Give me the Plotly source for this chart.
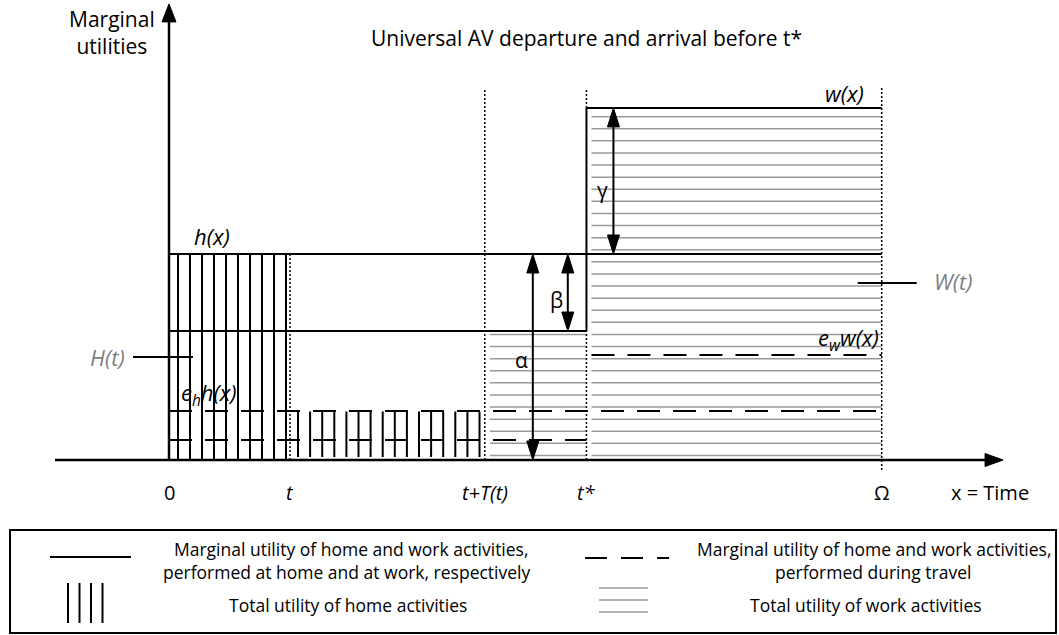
import numpy as np
import plotly.graph_objects as go

# ---------------- data (conceptual units) ----------------
tick_labels = ["0", "<i>t</i>", "<i>t+T(t)</i>", "<i>t*</i>", "Ω"]
tick_values = [0.0, 1.0, 2.61, 3.45, 5.89]      # 0, t, t+T(t), t*, Ω
level_w = 17.09      # w(x)
level_h = 10.0       # h(x)
level_mid = 6.26     # h(x) - β
level_ew = 5.10      # e_w w(x)
level_eh = 2.38      # e_h h(x)
level_low = 0.97     # lower travel dash
guide_top = 18.06    # top of dotted guides

T0, T1, T2, T3, T4 = tick_values

# ---------------- scale helpers ----------------
XS, YS = 121.0, 20.6          # px per unit
X0PX, Y0PX = 169.0, 460.0     # pixel of origin
W, H = 1059, 635
def dx(p): return p / XS
def dy(p): return p / YS

FONT = "Open Sans, Lato, sans-serif"
shapes = []
annotations = []

def line(x0, y0, x1, y1, color="black", width=2, dash=None, ref="x"):
    d = dict(type="line", x0=x0, y0=y0, x1=x1, y1=y1,
             xref=ref if ref == "paper" else "x", yref=ref if ref == "paper" else "y",
             line=dict(color=color, width=width, dash=dash), layer="above")
    shapes.append(d)

def head(xt, yt, direction, L=18, Wd=6):
    if direction == "up":
        pts = [(xt, yt), (xt - dx(Wd), yt - dy(L)), (xt + dx(Wd), yt - dy(L))]
    elif direction == "down":
        pts = [(xt, yt), (xt - dx(Wd), yt + dy(L)), (xt + dx(Wd), yt + dy(L))]
    else:  # right
        pts = [(xt, yt), (xt - dx(L), yt + dy(Wd)), (xt - dx(L), yt - dy(Wd))]
    path = "M " + " L ".join(f"{a},{b}" for a, b in pts) + " Z"
    shapes.append(dict(type="path", path=path, xref="x", yref="y",
                       fillcolor="black", line=dict(color="black", width=1), layer="above"))

def text(x, y, s, size=17, color="black", xanchor="center", ref="x"):
    annotations.append(dict(x=x, y=y, text=s, showarrow=False, xanchor=xanchor, yanchor="middle",
                            xref=ref if ref == "paper" else "x", yref=ref if ref == "paper" else "y",
                            font=dict(family=FONT, size=size, color=color)))

GRAY = "#9a9a9a"
DASH = "23px,13px"

# ---------------- hatch: total utility of work (grey horizontals) ----------------
gy = level_w - dy(8.7) - np.arange(0, 29) * dy(12.1)
for y in gy:
    if y < dy(4):
        continue
    line(T3 + dx(5), y, T4, y, color=GRAY, width=1.5)
    if y < level_mid - dy(3):
        line(T2 + dx(5), y, T3, y, color=GRAY, width=1.5)

# ---------------- hatch: total utility of home (verticals) ----------------
for x in np.arange(T0 + dx(9), T1, dx(12)):
    line(x, 0, x, level_h, width=2)
for x in np.arange(T1 + dx(8), T2 - dx(3), dx(12.1)):
    line(x, dy(3), x, level_eh - dy(0.5), width=2)

# ---------------- dotted guides ----------------
DOT = "2px,2px"
line(T1, 0, T1, level_h, width=1.5, dash=DOT)
line(T2, 0, T2, guide_top, width=1.5, dash=DOT)
line(T3, level_w, T3, guide_top, width=1.5, dash=DOT)
line(T3, 0, T3, level_mid, width=1.5, dash=DOT)
line(T4, -dy(10), T4, guide_top, width=1.5, dash=DOT)

# ---------------- marginal utility lines ----------------
line(T0, level_h, T4, level_h, width=2)
line(T0, level_mid, T3, level_mid, width=2)
line(T3, level_mid, T3, level_w, width=2)
line(T3, level_w, T4, level_w, width=2)

# dashed (travel) lines
line(T0, level_eh, T4, level_eh, width=2, dash=DASH)
line(T0, level_low, T3, level_low, width=2, dash=DASH)
line(T3 + dx(5), level_ew, T4, level_ew, width=2, dash=DASH)

# ---------------- axes ----------------
line(T0, 0, T0, 22.14 - dy(17), width=2.5)
head(T0, 22.14, "up", L=18, Wd=7)
line(-dx(114), 0, 6.893 - dx(17), 0, width=2.5)
head(6.893, 0, "right", L=18, Wd=6.5)

# ---------------- double arrows ----------------
def darrow(x, ya, yb):
    line(x, ya + dy(16), x, yb - dy(16), width=2)
    head(x, ya, "down", L=19, Wd=6)
    head(x, yb, "up", L=19, Wd=6)

darrow(T3 + dx(27), level_h, level_w)     # gamma
darrow(T2 + dx(83), level_mid, level_h)   # beta
darrow(T2 + dx(48), 0, level_h)           # alpha

# ---------------- pointer lines ----------------
line(T0 - dx(36), level_h - dy(103), T0 + dx(24), level_h - dy(103), width=2)
line(T4 - dx(24), level_h - dy(29), T4 + dx(35), level_h - dy(29), width=2)

# ---------------- labels ----------------
LB = 22
text(T0 + dx(43), level_h + dy(18), "<i>h(x)</i>", size=LB)
text(T4 - dx(37), level_w + dy(15), "<i>w(x)</i>", size=LB)
text(T4 - dx(33), level_ew + dy(16), "<i>e<sub>w</sub>w(x)</i>", size=LB)
text(T0 + dx(40), level_eh + dy(17), "<i>e<sub>h</sub>h(x)</i>", size=LB)
text(T0 - dx(62), level_h - dy(103), "<i>H(t)</i>", size=LB, color="#808080")
text(T4 + dx(72), level_h - dy(27), "<i>W(t)</i>", size=LB, color="#808080")
text(T3 + dx(16), level_h + dy(64), "γ", size=21)
text(T2 + dx(72), level_h - dy(46), "β", size=21)
text(T2 + dx(37), level_mid - dy(29), "α", size=21)

for v, s in zip(tick_values, tick_labels):
    text(v, -dy(32), s, size=20)
text(T4 + dx(108), -dy(32), "x = Time", size=20)

text(dx(586 - X0PX), dy(Y0PX - 38), "Universal AV departure and arrival before t*", size=21)
text(dx(112 - X0PX), dy(Y0PX - 32), "Marginal<br>utilities", size=21)

# ---------------- legend box (paper) ----------------
def px_x(p): return p / W
def px_y(p): return 1 - p / H
shapes.append(dict(type="rect", xref="paper", yref="paper",
                   x0=px_x(10), x1=px_x(1056), y0=px_y(633), y1=px_y(530),
                   line=dict(color="black", width=2), fillcolor="rgba(0,0,0,0)"))
line(px_x(50), px_y(557), px_x(131), px_y(557), width=2, ref="paper")
for p in [68, 79.5, 91, 102.5]:
    line(px_x(p), px_y(583), px_x(p), px_y(623), width=2, ref="paper")
line(px_x(585), px_y(558), px_x(669), px_y(558), width=2, dash="22px,14px", ref="paper")
for p in [588, 600, 612]:
    line(px_x(599), px_y(p), px_x(648), px_y(p), color=GRAY, width=1.5, ref="paper")

LS = 17.5
text(px_x(351), px_y(549), "Marginal utility of home and work activities,", size=LS, ref="paper")
text(px_x(346), px_y(572), "performed at home and at work, respectively", size=LS, ref="paper")
text(px_x(348), px_y(605), "Total utility of home activities", size=LS, ref="paper")
text(px_x(874), px_y(549), "Marginal utility of home and work activities,", size=LS, ref="paper")
text(px_x(873), px_y(572), "performed during travel", size=LS, ref="paper")
text(px_x(866), px_y(605), "Total utility of work activities", size=LS, ref="paper")

fig = go.Figure()
fig.add_trace(go.Scatter(x=tick_values, y=[0] * len(tick_values), mode="markers",
                         marker=dict(size=1, color="rgba(0,0,0,0)"), hoverinfo="skip", showlegend=False))
fig.update_layout(
    width=W, height=H, margin=dict(l=0, r=0, t=0, b=0),
    paper_bgcolor="white", plot_bgcolor="white", showlegend=False,
    xaxis=dict(range=[(0 - X0PX) / XS, (W - X0PX) / XS], visible=False, fixedrange=True),
    yaxis=dict(range=[(Y0PX - H) / YS, Y0PX / YS], visible=False, fixedrange=True),
    shapes=shapes, annotations=annotations,
)
fig.write_html("out.html")
